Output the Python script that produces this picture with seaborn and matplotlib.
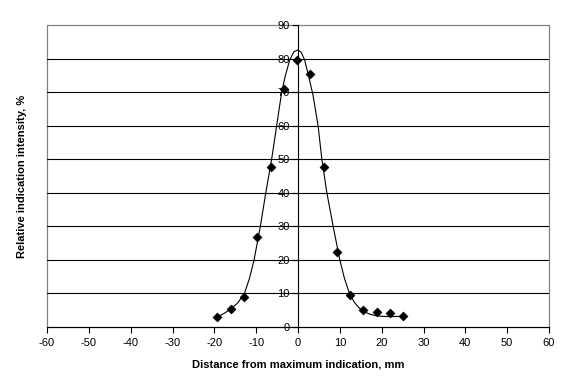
"""Relative indication intensity vs distance from maximum indication"""
import numpy as np
import pandas as pd
import matplotlib
matplotlib.use('Agg')
import matplotlib.pyplot as plt
from matplotlib.patches import Rectangle
import seaborn as sns

distance_mm = [-19.3, -16.0, -12.9, -9.7, -6.4, -3.3, -0.2, 2.9, 6.1,
               9.4, 12.5, 15.6, 19.0, 22.0, 25.2]
intensity = [3.0, 5.4, 8.9, 26.7, 47.6, 71.0, 79.7, 75.3, 47.6,
             22.5, 9.4, 5.1, 4.4, 4.1, 3.3]

# fitted curve
curve_x = [-19.3, -17.6, -16.0, -14.4, -12.8, -11.6, -10.5, -9.0, -7.7, -6.3,
           -5.1, -3.9, -3.0, -2.0, -1.0, 0.0, 0.8, 1.6, 2.5, 3.6, 4.8, 5.7,
           6.9, 8.4, 10.0, 11.1, 12.3, 13.5, 14.6, 15.7, 17.0, 18.5, 20.0,
           22.0, 25.4]
curve_y = [3.0, 4.1, 5.4, 7.2, 10.0, 14.5, 20.0, 30.0, 40.0, 50.0,
           60.0, 70.0, 75.0, 79.5, 82.0, 82.6, 81.8, 79.5, 75.0, 69.0, 60.0, 50.0,
           40.0, 30.0, 20.0, 14.5, 10.0, 7.3, 5.7, 4.7, 3.9, 3.4, 3.2,
           3.1, 3.2]

x_ticks = list(range(-60, 61, 10))
y_ticks = list(range(0, 91, 10))

sns.set_style('white')
plt.rcParams['font.family'] = ['Liberation Sans', 'DejaVu Sans']
plt.rcParams['axes.unicode_minus'] = False
plt.rcParams['text.color'] = 'black'
plt.rcParams['axes.labelcolor'] = 'black'
plt.rcParams['xtick.color'] = 'black'
plt.rcParams['ytick.color'] = 'black'

points = pd.DataFrame({'x': distance_mm, 'y': intensity})
curve = pd.DataFrame({'x': curve_x, 'y': curve_y})

fig = plt.figure(figsize=(5.77, 3.92), dpi=100)
ax = fig.add_axes([47 / 577, 1 - 327 / 392, 502 / 577, 302 / 392])

# horizontal gridlines
for yv in y_ticks[1:-1]:
    ax.axhline(yv, color='black', lw=0.8, zorder=1)

sns.lineplot(data=curve, x='x', y='y', ax=ax, color='black', lw=0.8,
             sort=False, zorder=3)
sns.scatterplot(data=points, x='x', y='y', ax=ax, marker='D', s=22,
                color='black', edgecolor='black', linewidth=0.3, zorder=4)

ax.set_xlim(-60, 60)
ax.set_ylim(0, 90)
ax.set_xticks(x_ticks)
ax.set_yticks(y_ticks)

# y axis crossing at x = 0
ax.spines['left'].set_position(('data', 0))
ax.spines['left'].set_color('black')
ax.spines['left'].set_linewidth(0.8)
ax.spines['bottom'].set_color('black')
ax.spines['bottom'].set_linewidth(0.8)
ax.spines['bottom'].set_zorder(5)
ax.spines['top'].set_visible(False)
ax.spines['right'].set_visible(False)
ax.add_patch(Rectangle((0, 0), 1, 1, transform=ax.transAxes, fill=False,
                       edgecolor='#808080', lw=0.9, clip_on=False, zorder=0))

ax.tick_params(axis='both', direction='out', length=4, width=0.8,
               color='black', labelsize=8, pad=2, labelcolor='black')
ax.tick_params(axis='y', left=True)
ax.tick_params(axis='x', bottom=True, pad=4)

ax.set_xlabel('Distance from maximum indication, mm', fontsize=8,
              fontweight='bold', labelpad=8)
ax.set_ylabel('Relative indication intensity, %', fontsize=8,
              fontweight='bold')
ax.yaxis.set_label_coords((27 - 47) / 502, 0.5)

fig.savefig('out.png', dpi=100)
